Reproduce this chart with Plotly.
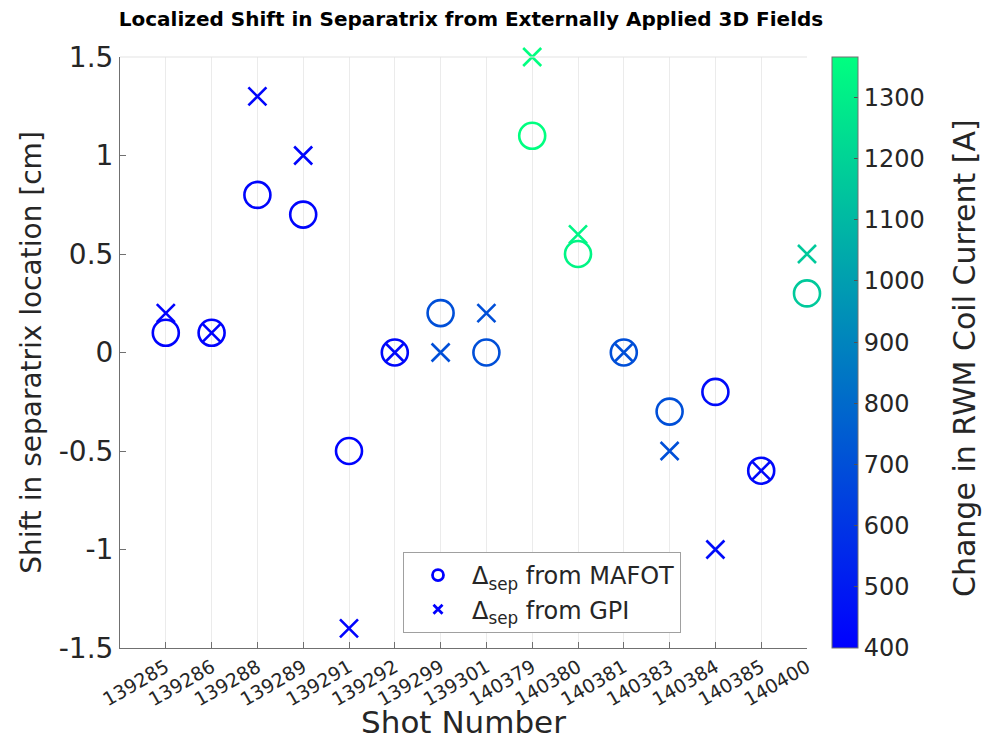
import plotly.graph_objects as go

# Shot numbers and measured separatrix shifts [cm]
shots = ["139285", "139286", "139288", "139289", "139291", "139292", "139299",
         "139301", "140379", "140380", "140381", "140383", "140384", "140385", "140400"]
shift_mafot = [0.1, 0.1, 0.8, 0.7, -0.5, 0.0, 0.2, 0.0, 1.1, 0.5, 0.0, -0.3, -0.2, -0.6, 0.3]
shift_gpi = [0.2, 0.1, 1.3, 1.0, -1.4, 0.0, 0.0, 0.2, 1.5, 0.6, 0.0, -0.5, -1.0, -0.6, 0.5]
# Change in RWM coil current for each shot [A]
rwm_current = [410, 410, 420, 420, 410, 430, 700, 700, 1366, 1330, 700, 700, 440, 430, 1160]

y_ticks = [-1.5, -1, -0.5, 0, 0.5, 1, 1.5]
y_tick_text = ["-1.5", "-1", "-0.5", "0", "0.5", "1", "1.5"]
cbar_ticks = [400, 500, 600, 700, 800, 900, 1000, 1100, 1200, 1300]

# MATLAB "winter" colormap
winter = [[0.0, "rgb(0,0,255)"], [1.0, "rgb(0,255,128)"]]

FONT = "DejaVu Sans"
TXT = "#262626"
x_idx = list(range(1, len(shots) + 1))

# plot area in pixels
L, R, T, B = 120, 807, 57, 648
PW = R - L

fig = go.Figure()

fig.add_trace(go.Scatter(
    x=x_idx, y=shift_mafot, mode="markers", showlegend=False, cliponaxis=False,
    marker=dict(symbol="circle-open", size=26, color=rwm_current,
                coloraxis="coloraxis", line=dict(width=2.6)),
))
fig.add_trace(go.Scatter(
    x=x_idx, y=shift_gpi, mode="markers", showlegend=False, cliponaxis=False,
    marker=dict(symbol="x-thin-open", size=18, color=rwm_current,
                coloraxis="coloraxis", line=dict(width=2.6)),
))

# Legend entries
fig.add_trace(go.Scatter(
    x=[None], y=[None], mode="markers", name="Δ<sub>sep</sub> from MAFOT",
    marker=dict(symbol="circle-open", size=11, color="rgb(0,0,255)", line=dict(width=2.8)),
))
fig.add_trace(go.Scatter(
    x=[None], y=[None], mode="markers", name="Δ<sub>sep</sub> from GPI",
    marker=dict(symbol="x-thin-open", size=9, color="rgb(0,0,255)", line=dict(width=2.8)),
))

fig.update_layout(
    width=989, height=740,
    margin=dict(l=L, r=989 - R, t=T, b=740 - B),
    paper_bgcolor="white", plot_bgcolor="white",
    font=dict(family=FONT, color=TXT),
    title=dict(text="<b>Localized Shift in Separatrix from Externally Applied 3D Fields</b>",
               x=471 / 989, xanchor="center", xref="container",
               y=1 - 19 / 740, yanchor="middle", yref="container",
               font=dict(family=FONT, size=20, color="black")),
    xaxis=dict(
        range=[0, 15], tickmode="array", tickvals=x_idx, ticktext=shots,
        tickangle=-30, tickfont=dict(size=19, color=TXT), automargin=False,
        showgrid=True, gridcolor="#ebebeb", gridwidth=1,
        showline=True, linecolor="#707070", linewidth=1,
        ticks="inside", ticklen=6, tickcolor="#707070", zeroline=False,
        title=dict(text="Shot Number", font=dict(size=31, color=TXT), standoff=6),
    ),
    yaxis=dict(
        range=[-1.5, 1.5], tickmode="array", tickvals=y_ticks, ticktext=y_tick_text,
        tickfont=dict(size=28, color=TXT), showgrid=False, zeroline=False,
        automargin=False,
        showline=True, linecolor="#707070", linewidth=1,
        ticks="inside", ticklen=6, tickcolor="#707070",
        title=dict(text="Shift in separatrix location [cm]", font=dict(size=28, color=TXT),
                   standoff=8),
    ),
    coloraxis=dict(
        colorscale=winter, cmin=400, cmax=1366,
        colorbar=dict(
            x=(832 - L) / PW, xanchor="left", xref="paper", xpad=0,
            y=0.5, yanchor="middle", yref="paper", ypad=0,
            len=B - T, lenmode="pixels", thickness=26, thicknessmode="pixels",
            outlinecolor="#707070", outlinewidth=1,
            tickmode="array", tickvals=cbar_ticks,
            ticks="inside", ticklen=4, tickcolor="#505050",
            tickfont=dict(size=24, color=TXT),
        ),
    ),
    legend=dict(
        x=(403 - L) / PW, y=(B - 552) / (B - T), xanchor="left", yanchor="top",
        bgcolor="white", bordercolor="#a0a0a0", borderwidth=1,
        font=dict(size=24, color=TXT), tracegroupgap=8, itemwidth=58,
    ),
    shapes=[dict(type="line", xref="paper", yref="paper", x0=0, x1=1, y0=1, y1=1,
                 line=dict(color="#e3e3e3", width=1))],
    annotations=[dict(
        text="Change in RWM Coil Current [A]", textangle=-90,
        xref="paper", yref="paper", x=(965 - L) / PW, y=(B - 358) / (B - T),
        xanchor="center", yanchor="middle", showarrow=False,
        font=dict(size=30, color=TXT),
    )],
)

fig.write_html("out.html")
